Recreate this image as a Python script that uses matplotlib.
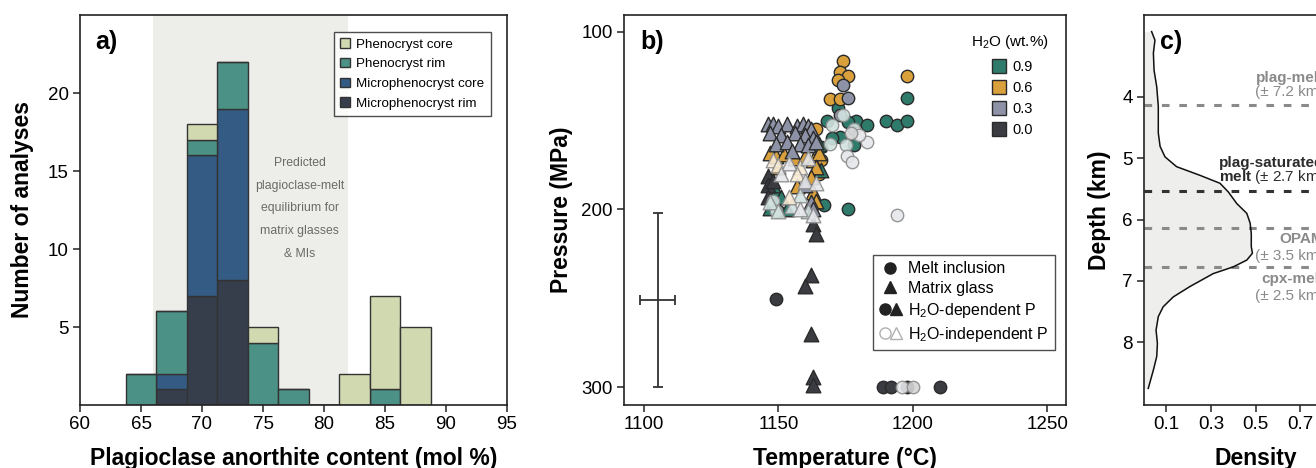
import matplotlib
matplotlib.use("Agg")
import matplotlib.pyplot as plt
from matplotlib.lines import Line2D
from matplotlib.colors import to_rgb
from matplotlib.legend_handler import HandlerTuple

plt.rcParams["font.family"] = ["Liberation Sans", "DejaVu Sans"]
plt.rcParams["mathtext.fontset"] = "custom"
plt.rcParams["mathtext.rm"] = "Liberation Sans"
plt.rcParams["mathtext.bf"] = "Liberation Sans:bold"
plt.rcParams["mathtext.it"] = "Liberation Sans:italic"

# ---- panel a: stacked histogram of anorthite content ----
BIN_CENTERS = [65, 67.5, 70, 72.5, 75, 77.5, 80, 82.5, 85, 87.5]
MICRO_RIM = [0, 1, 7, 8, 0, 0, 0, 0, 0, 0]
MICRO_CORE = [0, 1, 9, 11, 0, 0, 0, 0, 0, 0]
PHENO_RIM = [2, 4, 1, 3, 4, 1, 0, 0, 1, 0]
PHENO_CORE = [0, 0, 1, 0, 1, 0, 0, 2, 6, 5]
EQUIL_RANGE = [66, 82]

# ---- panel b: pressure vs temperature ----
H2O_LEVELS = [0.9, 0.6, 0.3, 0.0]

# melt inclusions, H2O-dependent pressure
MI_T = [1174, 1173, 1176, 1172, 1198, 1169, 1173, 1164, 1166, 1165,
        1174, 1176, 1173,
        1198, 1190, 1194, 1198, 1172, 1179, 1183, 1173, 1178, 1176, 1167,
        1168, 1176, 1166, 1170, 1150,
        1149, 1189, 1192, 1198, 1210]
MI_P = [116.5, 122.5, 125, 127, 125, 138, 138, 155, 172, 180,
        130, 137.5, 147,
        137.5, 150, 152.5, 150, 143, 150, 152.5, 159, 164, 200, 197.5,
        150, 151, 165, 160, 201,
        250.5, 300, 300, 300, 300]
MI_H2O = [0.6, 0.6, 0.6, 0.6, 0.6, 0.6, 0.6, 0.6, 0.6, 0.6,
          0.3, 0.3, 0.3,
          0.9, 0.9, 0.9, 0.9, 0.9, 0.9, 0.9, 0.9, 0.9, 0.9, 0.9,
          0.9, 0.9, 0.9, 0.9, 0.9,
          0.0, 0.0, 0.0, 0.0, 0.0]

# melt inclusions, H2O-independent pressure
MI_IND_T = [1170, 1174, 1169, 1175, 1178, 1148, 1149, 1183, 1175.5, 1177.5, 1194, 1196, 1180, 1200, 1177]
MI_IND_P = [152.5, 147, 163, 164, 155, 195, 201, 162, 170, 173.5, 203, 300, 158, 300, 157]
MI_IND_H2O = [0.9, 0.9, 0.9, 0.9, 0.9, 0.9, 0.9, 0.3, 0.3, 0.3, 0.3, 0.3, 0.3, 0.0, 0.0]

# matrix glasses, H2O-dependent pressure
MG_T = [1146, 1148, 1150, 1153, 1157, 1159, 1161, 1162, 1147, 1151, 1156, 1160, 1163,
        1149, 1153, 1158, 1161, 1164, 1155, 1160, 1162, 1163,
        1147, 1149, 1152, 1156, 1160, 1163, 1165, 1164, 1162, 1157, 1163, 1150, 1164,
        1149, 1151, 1147, 1153, 1165, 1166, 1148,
        1146, 1146, 1148, 1146, 1163, 1164, 1162, 1160, 1162, 1163, 1163]
MG_P = [152, 152, 153, 152, 153, 152, 153, 155, 157, 158, 157, 158, 160,
        163, 162, 163, 164, 162, 167, 186, 196, 200,
        168, 170, 169, 171, 170, 172, 168, 176, 182, 187, 190, 176, 195,
        190, 193, 199, 200, 163, 178, 186,
        181, 186, 184, 193, 208, 214, 237, 243, 270, 294, 299]
MG_H2O = [0.3, 0.3, 0.3, 0.3, 0.3, 0.3, 0.3, 0.3, 0.3, 0.3, 0.3, 0.3, 0.3,
          0.3, 0.3, 0.3, 0.3, 0.3, 0.3, 0.3, 0.3, 0.3,
          0.6, 0.6, 0.6, 0.6, 0.6, 0.6, 0.6, 0.6, 0.6, 0.6, 0.6, 0.6, 0.6,
          0.9, 0.9, 0.9, 0.9, 0.9, 0.9, 0.9,
          0.0, 0.0, 0.0, 0.0, 0.0, 0.0, 0.0, 0.0, 0.0, 0.0, 0.0]

# matrix glasses, H2O-independent pressure
MG_IND_T = [1148, 1150, 1154, 1158, 1161, 1151, 1157, 1160, 1147, 1150, 1155, 1158, 1161, 1163, 1158, 1154, 1164]
MG_IND_P = [172, 175, 174, 176, 171, 180, 180, 184, 196, 201, 198, 200, 201, 203, 192, 193, 185]
MG_IND_H2O = [0.6, 0.6, 0.3, 0.6, 0.3, 0.3, 0.6, 0.3, 0.9, 0.9, 0.9, 0.3, 0.9, 0.3, 0.9, 0.6, 0.3]

# representative uncertainty
ERR_T, ERR_P = 1105, 251
ERR_DT, ERR_DP = 6.5, 49

# ---- panel c: depth density ----
DEPTH = [2.94, 3.08, 3.29, 3.57, 3.84, 4.16, 4.59, 4.81, 4.98, 5.14, 5.28, 5.41, 5.55,
         5.74, 5.90, 6.06, 6.23, 6.44, 6.55, 6.66, 6.77, 6.88, 7.09, 7.26, 7.42, 7.58,
         7.80, 8.02, 8.23, 8.45, 8.75]
DENSITY = [0.034, 0.049, 0.042, 0.045, 0.057, 0.064, 0.064, 0.072, 0.094, 0.146, 0.25, 0.34, 0.377,
           0.415, 0.46, 0.475, 0.48, 0.48, 0.485, 0.46, 0.40, 0.31, 0.206, 0.131, 0.086, 0.064,
           0.054, 0.06, 0.057, 0.042, 0.019]
REF_DEPTHS = [4.14, 5.53, 6.13, 6.78]
REF_NAMES = ["plag-melt", "plag-saturated", "OPAM", "cpx-melt"]
REF_ERRORS = ["(± 7.2 km)", "$\\mathbf{melt}$ (± 2.7 km)", "(± 3.5 km)", "(± 2.5 km)"]

C_PHENO_CORE = "#d0d9b0"
C_PHENO_RIM = "#4b9185"
C_MICRO_CORE = "#335b84"
C_MICRO_RIM = "#363e4c"
H2O_COLORS = {0.9: "#2e7b6c", 0.6: "#d9a03c", 0.3: "#8e92a6", 0.0: "#3a3c42"}
EDGE = "#2a2a2a"
GREY_TXT = "#8a8a8a"


def pale(c, f=0.22):
    r, g, b = to_rgb(c)
    return (1 - f + f * r, 1 - f + f * g, 1 - f + f * b)


def style_axes(ax):
    for s in ax.spines.values():
        s.set_linewidth(1.2)
        s.set_color("#222222")
    ax.tick_params(labelsize=13.5, length=5, width=1.1, color="#222222", pad=3)


fig = plt.figure(figsize=(13.16, 4.68), dpi=100)

# ------------------------------------------------------------ a
ax = fig.add_axes([80 / 1316, 63 / 468, 427 / 1316, 390 / 468])
ax.axvspan(*EQUIL_RANGE, color="#edeeea", zorder=0, lw=0)
bottom = [0] * len(BIN_CENTERS)
for vals, col, lab in [(MICRO_RIM, C_MICRO_RIM, "Microphenocryst rim"),
                       (MICRO_CORE, C_MICRO_CORE, "Microphenocryst core"),
                       (PHENO_RIM, C_PHENO_RIM, "Phenocryst rim"),
                       (PHENO_CORE, C_PHENO_CORE, "Phenocryst core")]:
    ax.bar(BIN_CENTERS, vals, width=2.5, bottom=bottom, color=col, edgecolor="#333333",
           linewidth=1.0, label=lab, zorder=2)
    bottom = [b + v for b, v in zip(bottom, vals)]
ax.set_xlim(60, 95)
ax.set_ylim(0, 25)
ax.set_xticks(range(60, 96, 5))
ax.set_yticks([5, 10, 15, 20])
style_axes(ax)
ax.set_xlabel("Plagioclase anorthite content (mol %)", fontsize=16.5, fontweight="bold", labelpad=10)
ax.set_ylabel("Number of analyses", fontsize=16.5, fontweight="bold", labelpad=10)
ax.text(0.035, 0.93, "a)", transform=ax.transAxes, fontsize=18, fontweight="bold", va="center")
ax.text(78, 12.6, "Predicted\nplagioclase-melt\nequilibrium for\nmatrix glasses\n& MIs",
        ha="center", va="center", fontsize=8.8, color="#6a6a6a", linespacing=2.2, zorder=3)
h, l = ax.get_legend_handles_labels()
leg = ax.legend(h[::-1], l[::-1], loc="upper right", bbox_to_anchor=(0.963, 0.957), fontsize=9.6,
                frameon=True, fancybox=False, edgecolor="#222222", handlelength=0.7, handleheight=0.7,
                handletextpad=0.5, labelspacing=0.55, borderpad=0.5, borderaxespad=0)
leg.get_frame().set_linewidth(1.0)

# ------------------------------------------------------------ b
bx = fig.add_axes([624 / 1316, 63 / 468, 442 / 1316, 390 / 468])
bx.errorbar(ERR_T, ERR_P, xerr=ERR_DT, yerr=ERR_DP, color="#333333", lw=1.3, capsize=3.5,
            capthick=1.3, zorder=2)


def scatter_group(ax, T, P, H, marker, size, independent):
    for lev in H2O_LEVELS:
        xs = [t for t, w in zip(T, H) if w == lev]
        ys = [p for p, w in zip(P, H) if w == lev]
        if not xs:
            continue
        if independent:
            ax.scatter(xs, ys, s=size, marker=marker, facecolor=pale(H2O_COLORS[lev]),
                       edgecolor="#8c8c8c", linewidth=1.0, alpha=0.9, zorder=4)
        else:
            ax.scatter(xs, ys, s=size, marker=marker, facecolor=H2O_COLORS[lev],
                       edgecolor=EDGE, linewidth=1.0, zorder=3)


scatter_group(bx, MI_T, MI_P, MI_H2O, "o", 80, False)
scatter_group(bx, MG_T, MG_P, MG_H2O, "^", 110, False)
scatter_group(bx, MI_IND_T, MI_IND_P, MI_IND_H2O, "o", 80, True)
scatter_group(bx, MG_IND_T, MG_IND_P, MG_IND_H2O, "^", 110, True)

bx.set_xlim(1092.5, 1257)
bx.set_ylim(310, 90.6)
bx.set_xticks([1100, 1150, 1200, 1250])
bx.set_yticks([100, 200, 300])
style_axes(bx)
bx.set_xlabel("Temperature (°C)", fontsize=16.5, fontweight="bold", labelpad=10)
bx.set_ylabel("Pressure (MPa)", fontsize=16.5, fontweight="bold", labelpad=6)
bx.text(0.036, 0.93, "b)", transform=bx.transAxes, fontsize=18, fontweight="bold", va="center")

bx.text(0.961, 0.93, "H$_2$O (wt.%)", transform=bx.transAxes, ha="right", va="center", fontsize=11)
h2o_handles = [Line2D([], [], ls="none", marker="s", markersize=9.5, markerfacecolor=H2O_COLORS[lev],
                      markeredgecolor=EDGE, markeredgewidth=1.0) for lev in H2O_LEVELS]
leg1 = bx.legend(h2o_handles, [f"{lev:.1f}" for lev in H2O_LEVELS],
                 loc="upper left", bbox_to_anchor=(0.835, 0.885), frameon=False, fontsize=10.5,
                 handlelength=0.8, handletextpad=0.5, labelspacing=0.48,
                 borderaxespad=0, borderpad=0)
bx.add_artist(leg1)

k = dict(ls="none", markersize=8, markeredgewidth=1.0)
mi_h = Line2D([], [], marker="o", color="#222222", **k)
mg_h = Line2D([], [], marker="^", color="#222222", **k)
ind_c = Line2D([], [], marker="o", markerfacecolor="white", markeredgecolor="#b0b0b0", **k)
ind_t = Line2D([], [], marker="^", markerfacecolor="white", markeredgecolor="#b0b0b0", **k)
leg2 = bx.legend([mi_h, mg_h, (mi_h, mg_h), (ind_c, ind_t)],
                 ["Melt inclusion", "Matrix glass", "H$_2$O-dependent P", "H$_2$O-independent P"],
                 handler_map={tuple: HandlerTuple(ndivide=None, pad=0)},
                 loc="upper left", bbox_to_anchor=(0.563, 0.385), fontsize=11.5, frameon=True,
                 fancybox=False, edgecolor="#222222", handlelength=1.4, handletextpad=0.4,
                 labelspacing=0.3, borderpad=0.4, borderaxespad=0)
leg2.get_frame().set_linewidth(1.0)

# ------------------------------------------------------------ c
cx = fig.add_axes([1144 / 1316, 63 / 468, 223.5 / 1316, 390 / 468])
cx.fill_betweenx(DEPTH, 0, DENSITY, color="#eeeeec", lw=0, zorder=1)
cx.plot(DENSITY, DEPTH, color="#111111", lw=1.1, zorder=3)
for d, name in zip(REF_DEPTHS, REF_NAMES):
    col = "#333333" if name == "plag-saturated" else GREY_TXT
    cx.axhline(d, color=col, lw=2.2, dashes=(2.5, 3.2), zorder=2)
for d, name, err, dy1, dy2 in zip(REF_DEPTHS, REF_NAMES, REF_ERRORS,
                                  [-0.44, -0.45, 0.18, 0.19], [-0.22, -0.22, 0.46, 0.46]):
    col = "#2b2b2b" if name == "plag-saturated" else GREY_TXT
    cx.text(0.805, d + dy1, name, ha="right", va="center", fontsize=11, fontweight="bold", color=col)
    cx.text(0.805, d + dy2, err, ha="right", va="center", fontsize=11, color=col)
cx.set_xlim(0, 1.0)
cx.set_ylim(9.02, 2.67)
cx.set_xticks([0.1, 0.3, 0.5, 0.7, 0.9])
cx.set_xticklabels(["0.1", "0.3", "0.5", "0.7", "0.9"])
cx.set_yticks([4, 5, 6, 7, 8])
style_axes(cx)
cx.set_xlabel("Density", fontsize=16.5, fontweight="bold", labelpad=10)
cx.set_ylabel("Depth (km)", fontsize=16.5, fontweight="bold", labelpad=8)
cx.text(0.072, 0.93, "c)", transform=cx.transAxes, fontsize=18, fontweight="bold", va="center")

fig.savefig("out.png", dpi=100)
